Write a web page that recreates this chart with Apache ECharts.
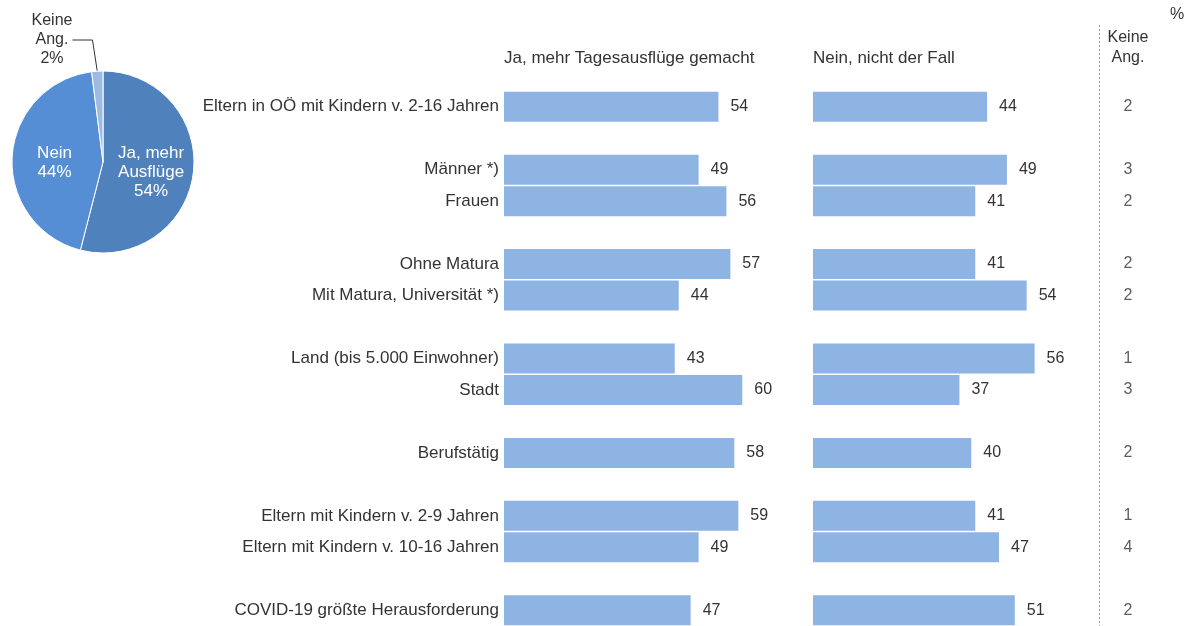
<!DOCTYPE html>
<html>
<head>
<meta charset="utf-8">
<script src="https://cdn.jsdelivr.net/npm/echarts@6/dist/echarts.min.js"></script>
<style>
  html, body { margin: 0; padding: 0; background: #fff; }
  #chart { width: 1194px; height: 626px; }
</style>
</head>
<body>
<div id="chart"></div>
<script>
// gaps between groups are marked with '#'
var categories = ['Eltern in OÖ mit Kindern v. 2-16 Jahren', '#1', 'Männer *)', 'Frauen', '#2',
  'Ohne Matura', 'Mit Matura, Universität *)', '#3', 'Land (bis 5.000 Einwohner)', 'Stadt', '#4',
  'Berufstätig', '#5', 'Eltern mit Kindern v. 2-9 Jahren', 'Eltern mit Kindern v. 10-16 Jahren', '#6',
  'COVID-19 größte Herausforderung'];
var jaValues    = [54, null, 49, 56, null, 57, 44, null, 43, 60, null, 58, null, 59, 49, null, 47];
var neinValues  = [44, null, 49, 41, null, 41, 54, null, 56, 37, null, 40, null, 41, 47, null, 51];
var keineValues = [2, null, 3, 2, null, 2, 2, null, 1, 3, null, 2, null, 1, 4, null, 2];

var pieNames  = ['Ja, mehr\nAusflüge', 'Nein', 'Keine\nAng.'];
var pieValues = [54, 44, 2];
var pieColors = ['#4f81bd', '#558ed5', '#9dbbe1'];

var font = '"Liberation Sans", Arial, sans-serif';
var txt = '#333';
var barColor = '#8eb4e3';

var chart = echarts.init(document.getElementById('chart'));

function yAxisOf(idx, showLabels) {
  return {
    type: 'category', gridIndex: idx, data: categories, inverse: true,
    axisLine: { show: false }, axisTick: { show: false }, splitLine: { show: false },
    axisLabel: {
      show: showLabels, color: txt, fontFamily: font, fontSize: 17, margin: 5,
      formatter: function (v) { return v.charAt(0) === '#' ? '' : v; }
    }
  };
}
function xAxisOf(idx, min, max) {
  return { type: 'value', gridIndex: idx, min: min, max: max, show: false };
}
function barSeries(idx, data) {
  return {
    type: 'bar', xAxisIndex: idx, yAxisIndex: idx, data: data, barWidth: 30,
    itemStyle: { color: barColor }, silent: true,
    label: { show: true, position: 'right', distance: 12, color: txt, fontFamily: font, fontSize: 16 }
  };
}

var option = {
  animation: false,
  textStyle: { fontFamily: font },
  grid: [
    { left: 504, top: 91, width: 278, height: 542 },
    { left: 813, top: 91, width: 277, height: 542 },
    { left: 1110, top: 91, width: 36, height: 542 }
  ],
  xAxis: [xAxisOf(0, 0, 70), xAxisOf(1, 0, 70), xAxisOf(2, -1, 1)],
  yAxis: [yAxisOf(0, true), yAxisOf(1, false), yAxisOf(2, false)],
  series: [
    barSeries(0, jaValues),
    barSeries(1, neinValues),
    {
      type: 'scatter', xAxisIndex: 2, yAxisIndex: 2, symbolSize: 0, silent: true,
      data: keineValues.map(function (v, i) { return v == null ? null : [0, i, v]; }),
      label: {
        show: true, position: 'inside', color: txt, fontFamily: font, fontSize: 16,
        formatter: function (p) { return p.data[2]; }
      }
    },
    {
      type: 'pie', center: [103, 162], radius: 91, startAngle: 90, clockwise: true,
      silent: true,
      itemStyle: { borderColor: '#fff', borderWidth: 1 },
      data: pieValues.map(function (v, i) {
        var d = { name: pieNames[i], value: v, itemStyle: { color: pieColors[i] } };
        if (i < 2) {
          d.label = { position: 'inside', color: '#fff', fontSize: 17, lineHeight: 19,
            formatter: '{b}\n{c}%', offset: [0, 4] };
          d.labelLine = { show: false };
        } else {
          d.label = { position: 'outside', color: txt, fontSize: 16, lineHeight: 19,
            formatter: '{b}\n{c}%', align: 'center' };
          d.labelLine = { show: true, length: 8, length2: 20, lineStyle: { color: '#333', width: 1 } };
        }
        return d;
      }),
      labelLayout: function (p) {
        if (p.dataIndex === 2) return { x: 52, y: 40, align: 'center', verticalAlign: 'middle' };
      }
    }
  ],
  graphic: [
    { type: 'text', left: 504, top: 50, style: { text: 'Ja, mehr Tagesausflüge gemacht', fill: txt, font: '17px ' + font } },
    { type: 'text', left: 813, top: 50, style: { text: 'Nein, nicht der Fall', fill: txt, font: '17px ' + font } },
    { type: 'text', x: 1128, y: 28, style: { text: 'Keine\nAng.', fill: txt, font: '16px ' + font, lineHeight: 20, align: 'center' } },
    { type: 'text', left: 1170, top: 7, style: { text: '%', fill: txt, font: '16px ' + font } },
    { type: 'line', shape: { x1: 1099.5, y1: 25, x2: 1099.5, y2: 626 }, style: { stroke: '#999', lineWidth: 1, lineDash: [2, 2] } }
  ]
};
chart.setOption(option);
</script>
</body>
</html>
